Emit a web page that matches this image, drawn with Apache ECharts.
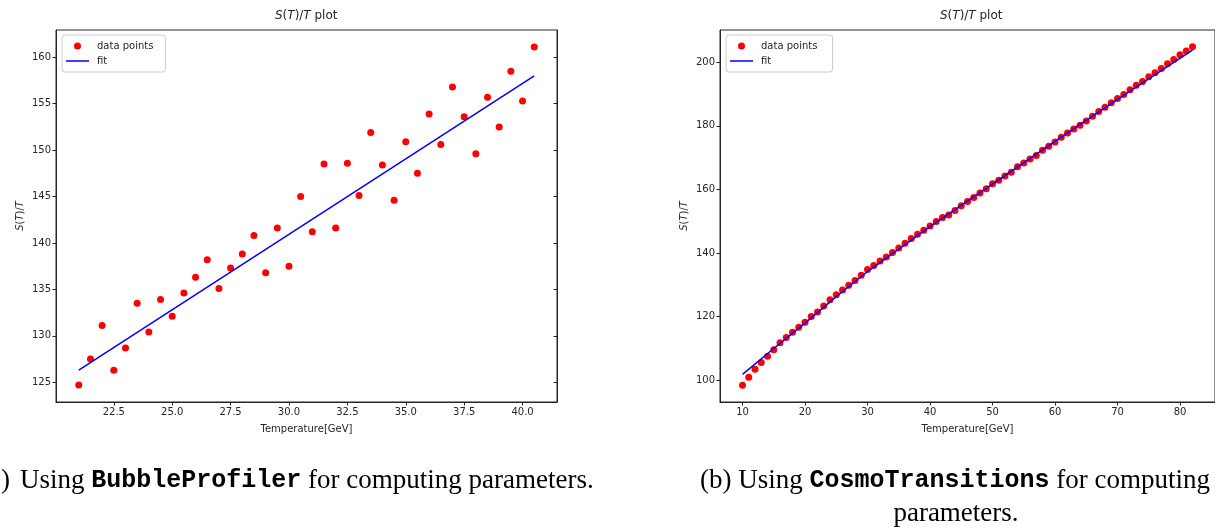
<!DOCTYPE html>
<html>
<head>
<meta charset="utf-8">
<title>S(T)/T plot</title>
<script src="https://cdn.jsdelivr.net/npm/echarts@6/dist/echarts.min.js"></script>
<style>
  body { margin: 0; background: #fff; }
  #main { width: 1215px; height: 527px; }
</style>
</head>
<body>
<div id="main"></div>
<script>
// left panel: BubbleProfiler
var tempA = [21.0, 21.5, 22.0, 22.5, 23.0, 23.5, 24.0, 24.5, 25.0, 25.5,
             26.0, 26.5, 27.0, 27.5, 28.0, 28.5, 29.0, 29.5, 30.0, 30.5,
             31.0, 31.5, 32.0, 32.5, 33.0, 33.5, 34.0, 34.5, 35.0, 35.5,
             36.0, 36.5, 37.0, 37.5, 38.0, 38.5, 39.0, 39.5, 40.0, 40.5];
var actA = [124.7, 127.5, 131.1, 126.3, 128.7, 133.5, 130.4, 133.9, 132.1, 134.6,
            136.3, 138.2, 135.1, 137.3, 138.8, 140.8, 136.8, 141.6, 137.5, 145.0,
            141.2, 148.5, 141.6, 148.6, 145.1, 151.9, 148.4, 144.6, 150.9, 147.5,
            153.9, 150.6, 156.8, 153.6, 149.6, 155.7, 152.5, 158.5, 155.3, 161.1];
var fitTempA = [21.0, 40.5];
var fitActA = [126.3, 158.0];
var xTicksA = [22.5, 25.0, 27.5, 30.0, 32.5, 35.0, 37.5, 40.0];
var yTicksA = [125, 130, 135, 140, 145, 150, 155, 160];

// right panel: CosmoTransitions
var tempB = [10, 11, 12, 13, 14, 15, 16, 17, 18, 19,
             20, 21, 22, 23, 24, 25, 26, 27, 28, 29,
             30, 31, 32, 33, 34, 35, 36, 37, 38, 39,
             40, 41, 42, 43, 44, 45, 46, 47, 48, 49,
             50, 51, 52, 53, 54, 55, 56, 57, 58, 59,
             60, 61, 62, 63, 64, 65, 66, 67, 68, 69,
             70, 71, 72, 73, 74, 75, 76, 77, 78, 79,
             80, 81, 82];
var actB = [98.5, 101.0, 103.5, 105.6, 107.6, 109.6, 111.8, 113.5, 115.1, 116.7,
            118.3, 120.1, 121.5, 123.4, 125.3, 126.9, 128.4, 129.9, 131.4, 133.0,
            134.8, 136.1, 137.5, 138.8, 140.2, 141.6, 143.1, 144.6, 145.9, 147.2,
            148.5, 149.9, 151.2, 152.0, 153.4, 154.9, 156.2, 157.5, 158.9, 160.2,
            161.8, 162.9, 164.2, 165.4, 167.1, 168.3, 169.6, 170.7, 172.3, 173.6,
            174.9, 176.4, 177.7, 179.0, 180.2, 181.5, 183.0, 184.5, 185.8, 187.2,
            188.6, 189.8, 191.3, 192.7, 193.9, 195.4, 196.7, 198.0, 199.5, 200.8,
            202.3, 203.5, 204.8];
var fitTempB = [10, 15, 20, 25, 30, 40, 50, 60, 70, 82];
var fitActB = [101.9, 110.0, 118.0, 126.3, 134.2, 148.3, 161.7, 175.1, 188.3, 203.8];
var xTicksB = [10, 20, 30, 40, 50, 60, 70, 80];
var yTicksB = [100, 120, 140, 160, 180, 200];

function pairs(xs, ys) {
  return xs.map(function (x, i) { return [x, ys[i]]; });
}

var ink = '#262626';
var font = 'DejaVu Sans';
var italic = { i: { fontStyle: 'italic', fontFamily: font, fontSize: 10, color: ink } };
var lineIcon = 'path://M0,0 L23,0 L23,1.5 L0,1.5 Z';

function xAx(grid, min, max, ticks, dec) {
  return {
    type: 'value', gridIndex: grid, min: min, max: max,
    name: 'Temperature[GeV]', nameLocation: 'middle', nameGap: 22,
    nameTextStyle: { fontFamily: font, fontSize: 10, color: ink },
    axisLine: { show: true, lineStyle: { color: ink, width: 1 } },
    axisTick: { show: true, length: 3.5, lineStyle: { color: ink }, customValues: ticks },
    axisLabel: { show: true, fontFamily: font, fontSize: 10, color: ink, margin: 5,
                 customValues: ticks, formatter: function (v) { return v.toFixed(dec); } },
    splitLine: { show: false }
  };
}
function yAx(grid, min, max, ticks, withName, pos) {
  var o = {
    type: 'value', gridIndex: grid, min: min, max: max, position: pos,
    axisLine: { show: true, onZero: false, lineStyle: { color: ink, width: 1 } },
    axisTick: { show: true, length: 3.5, inside: pos === 'right', lineStyle: { color: ink }, customValues: ticks },
    axisLabel: { show: pos !== 'right', fontFamily: font, fontSize: 10, color: ink, margin: 5, customValues: ticks },
    splitLine: { show: false }
  };
  if (withName) {
    o.name = '{i|S}({i|T})/{i|T}';
    o.nameLocation = 'middle';
    o.nameGap = 31;
    o.nameTextStyle = { fontFamily: font, fontSize: 10, color: ink, rich: italic };
  }
  return o;
}
function legend(left, suffix) {
  return {
    left: left, top: 35, orient: 'vertical',
    data: [
      { name: 'data points' + suffix, icon: 'circle' },
      { name: 'fit' + suffix, icon: lineIcon }
    ],
    itemWidth: 23, itemHeight: 7, itemGap: 5,
    padding: [6, 12, 6, 4],
    backgroundColor: '#fff', borderColor: '#cccccc', borderWidth: 1, borderRadius: 3,
    textStyle: { fontFamily: font, fontSize: 10, color: ink, padding: [0, 0, 0, 3] }
  };
}
function titleAt(left) {
  return {
    text: '{i|S}({i|T})/{i|T} plot', left: left, top: 10, padding: 0,
    textStyle: { fontFamily: font, fontSize: 12, fontWeight: 'normal', color: ink,
                 rich: { i: { fontStyle: 'italic', fontFamily: font, fontSize: 12, color: ink } } }
  };
}
function caption(text, x, y, align) {
  return {
    type: 'text', x: x, y: y,
    style: { text: text, font: '27px "Liberation Serif"', fill: '#000',
             align: align, verticalAlign: 'middle',
             rich: {
               m: { fontFamily: 'Liberation Mono', fontWeight: 'bold', fontSize: 25, fill: '#000' },
               p: { fontFamily: 'Liberation Serif', fontSize: 27, fill: '#000', padding: [0, 10, 0, 0] }
             } }
  };
}

var chart = echarts.init(document.getElementById('main'));
chart.setOption({
  animation: false,
  title: [titleAt(275), titleAt(940)],
  legend: [legend(62, ''), legend(726, ' ')],
  grid: [
    { left: 56, top: 30, width: 501, height: 372, show: true, borderColor: ink, borderWidth: 1 },
    { left: 720, top: 30, width: 503, height: 372, show: true, borderColor: ink, borderWidth: 1 }
  ],
  xAxis: [xAx(0, 20.025, 41.475, xTicksA, 1), xAx(1, 6.4, 85.6, xTicksB, 0)],
  yAxis: [
    yAx(0, 122.87, 162.94, yTicksA, true, 'left'),
    yAx(0, 122.87, 162.94, yTicksA, false, 'right'),
    yAx(1, 93.2, 210.1, yTicksB, true, 'left')
  ],
  series: [
    { name: 'data points', type: 'scatter', xAxisIndex: 0, yAxisIndex: 0,
      symbolSize: 7, itemStyle: { color: '#ff0000', opacity: 1 }, data: pairs(tempA, actA), z: 3 },
    { name: 'fit', type: 'line', xAxisIndex: 0, yAxisIndex: 0, symbol: 'none',
      lineStyle: { color: '#0000ff', width: 1.5 }, itemStyle: { color: '#0000ff' },
      data: pairs(fitTempA, fitActA), z: 4 },
    { name: 'data points ', type: 'scatter', xAxisIndex: 1, yAxisIndex: 2,
      symbolSize: 7, itemStyle: { color: '#ff0000', opacity: 1 }, data: pairs(tempB, actB), z: 3 },
    { name: 'fit ', type: 'line', xAxisIndex: 1, yAxisIndex: 2, symbol: 'none',
      lineStyle: { color: '#0000ff', width: 1.5 }, itemStyle: { color: '#0000ff' },
      data: pairs(fitTempB, fitActB), z: 4 }
  ],
  graphic: [
    caption('{p|)}Using {m|BubbleProfiler} for computing parameters.', 1, 481, 'left'),
    caption('(b) Using {m|CosmoTransitions} for computing', 700, 481, 'left'),
    caption('parameters.', 956, 514, 'center')
  ]
});
</script>
</body>
</html>
